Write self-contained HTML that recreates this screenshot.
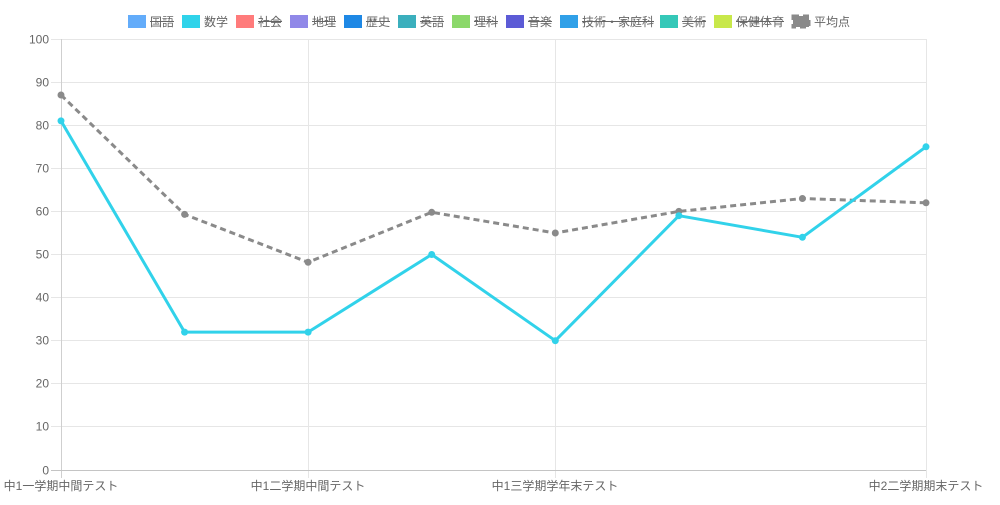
<!DOCTYPE html>
<html><head><meta charset="utf-8"><style>
html,body{margin:0;padding:0;background:#fff;width:1000px;height:505px;overflow:hidden}
svg{display:block}
text{font-family:"Liberation Sans","Noto Sans CJK JP",sans-serif;font-size:12px;fill:#666}
</style></head><body>
<svg width="1000" height="505" viewBox="0 0 1000 505" xmlns="http://www.w3.org/2000/svg">
<!-- legend -->
<g>
<rect x="128" y="15" width="18" height="13" fill="#63acfa"/><text x="150" y="26">国語</text><line x1="150" y1="21.5" x2="174" y2="21.5" stroke="#666" stroke-width="1"/>
<rect x="182" y="15" width="18" height="13" fill="#2fd3ea"/><text x="204" y="26">数学</text>
<rect x="236" y="15" width="18" height="13" fill="#ff7b7b"/><text x="258" y="26">社会</text><line x1="258" y1="21.5" x2="282" y2="21.5" stroke="#666"/>
<rect x="290" y="15" width="18" height="13" fill="#9088e8"/><text x="312" y="26">地理</text><line x1="312" y1="21.5" x2="336" y2="21.5" stroke="#666"/>
<rect x="344" y="15" width="18" height="13" fill="#1e88e5"/><text x="366" y="26">歴史</text><line x1="366" y1="21.5" x2="390" y2="21.5" stroke="#666"/>
<rect x="398" y="15" width="18" height="13" fill="#3bafbd"/><text x="420" y="26">英語</text><line x1="420" y1="21.5" x2="444" y2="21.5" stroke="#666"/>
<rect x="452" y="15" width="18" height="13" fill="#8bd86a"/><text x="474" y="26">理科</text><line x1="474" y1="21.5" x2="498" y2="21.5" stroke="#666"/>
<rect x="506" y="15" width="18" height="13" fill="#5c5bd6"/><text x="528" y="26">音楽</text><line x1="528" y1="21.5" x2="552" y2="21.5" stroke="#666"/>
<rect x="560" y="15" width="18" height="13" fill="#30a0e8"/><text x="582" y="26">技術・家庭科</text><line x1="582" y1="21.5" x2="654" y2="21.5" stroke="#666"/>
<rect x="660" y="15" width="18" height="13" fill="#35c8b8"/><text x="682" y="26">美術</text><line x1="682" y1="21.5" x2="706" y2="21.5" stroke="#666"/>
<rect x="714" y="15" width="18" height="13" fill="#c8e84a"/><text x="736" y="26">保健体育</text><line x1="736" y1="21.5" x2="784" y2="21.5" stroke="#666"/>
<rect x="793" y="16" width="16" height="11" fill="#8a8a8a" stroke="#8a8a8a" stroke-width="3" stroke-dasharray="6 4"/><text x="814" y="26">平均点</text>
</g>
<!-- grid horizontal -->
<g stroke="#e6e6e6" stroke-width="1">
<line x1="51" y1="39.5" x2="926" y2="39.5"/>
<line x1="51" y1="82.5" x2="926" y2="82.5"/>
<line x1="51" y1="125.5" x2="926" y2="125.5"/>
<line x1="51" y1="168.5" x2="926" y2="168.5"/>
<line x1="51" y1="211.5" x2="926" y2="211.5"/>
<line x1="51" y1="254.5" x2="926" y2="254.5"/>
<line x1="51" y1="297.5" x2="926" y2="297.5"/>
<line x1="51" y1="340.5" x2="926" y2="340.5"/>
<line x1="51" y1="383.5" x2="926" y2="383.5"/>
<line x1="51" y1="426.5" x2="926" y2="426.5"/>
<line x1="308.5" y1="39" x2="308.5" y2="478"/>
<line x1="555.5" y1="39" x2="555.5" y2="478"/>
<line x1="926.5" y1="39" x2="926.5" y2="478"/>
</g>
<line x1="61.5" y1="39" x2="61.5" y2="478" stroke="#cfcfcf"/>
<line x1="51" y1="470.5" x2="926" y2="470.5" stroke="#c4c4c4"/>
<!-- y labels -->
<g text-anchor="end">
<text x="49" y="43.5">100</text>
<text x="49" y="86.5">90</text>
<text x="49" y="129.5">80</text>
<text x="49" y="172.5">70</text>
<text x="49" y="215.5">60</text>
<text x="49" y="258.5">50</text>
<text x="49" y="301.5">40</text>
<text x="49" y="344.5">30</text>
<text x="49" y="387.5">20</text>
<text x="49" y="430.5">10</text>
<text x="49" y="474.5">0</text>
</g>
<!-- x labels -->
<g text-anchor="middle">
<text x="61" y="490">中1一学期中間テスト</text>
<text x="308" y="490">中1二学期中間テスト</text>
<text x="555" y="490">中1三学期学年末テスト</text>
<text x="926" y="490">中2二学期期末テスト</text>
</g>
<!-- average -->
<polyline fill="none" stroke="#8a8a8a" stroke-width="3" stroke-dasharray="6 4" points="61,95 184.6,214.4 308.1,262.3 431.7,212.3 555.3,233 678.9,211.4 802.4,198.5 926,202.8"/>
<g fill="#8a8a8a">
<circle cx="61" cy="95" r="3.5"/><circle cx="184.6" cy="214.4" r="3.5"/><circle cx="308.1" cy="262.3" r="3.5"/><circle cx="431.7" cy="212.3" r="3.5"/><circle cx="555.3" cy="233" r="3.5"/><circle cx="678.9" cy="211.4" r="3.5"/><circle cx="802.4" cy="198.5" r="3.5"/><circle cx="926" cy="202.8" r="3.5"/>
</g>
<!-- math -->
<polyline fill="none" stroke="#31d2ea" stroke-width="3" stroke-linejoin="round" points="61,120.9 184.6,332.1 308.1,332.1 431.7,254.5 555.3,340.7 678.9,215.7 802.4,237.3 926,146.8"/>
<g fill="#31d2ea">
<circle cx="61" cy="120.9" r="3.5"/><circle cx="184.6" cy="332.1" r="3.5"/><circle cx="308.1" cy="332.1" r="3.5"/><circle cx="431.7" cy="254.5" r="3.5"/><circle cx="555.3" cy="340.7" r="3.5"/><circle cx="678.9" cy="215.7" r="3.5"/><circle cx="802.4" cy="237.3" r="3.5"/><circle cx="926" cy="146.8" r="3.5"/>
</g>
</svg>
</body></html>
